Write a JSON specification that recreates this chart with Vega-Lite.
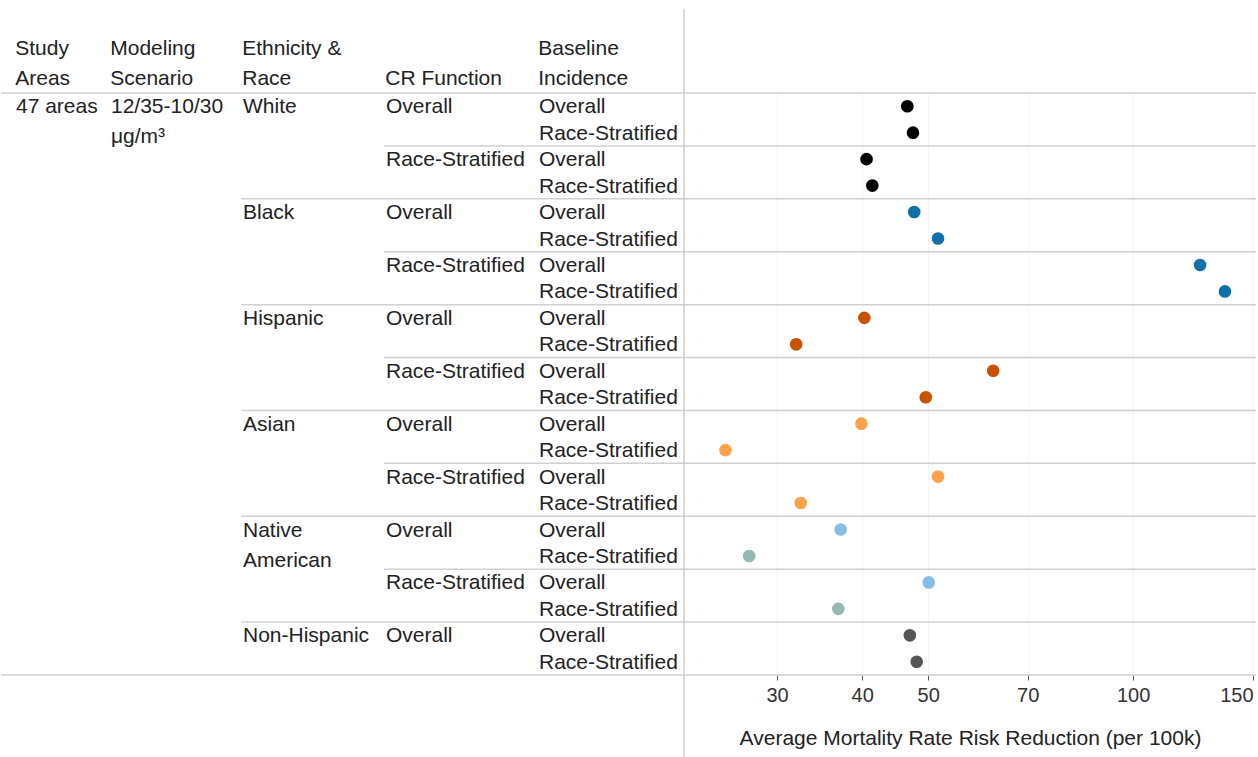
{
  "$schema": "https://vega.github.io/schema/vega-lite/v6.json",
  "padding": {"left": 0, "top": 8, "right": 0, "bottom": 0},
  "spacing": 0,
  "bounds": "flush",
  "config": {
    "view": {"stroke": null},
    "font": "Liberation Sans",
    "title": {"font": "Liberation Sans", "fontSize": 21, "fontWeight": "normal", "color": "#222222", "anchor": "start", "baseline": "bottom", "lineHeight": 30, "offset": 3},
    "text": {"font": "Liberation Sans", "fontSize": 21, "color": "#222222", "align": "left", "baseline": "alphabetic", "dy": 7, "lineHeight": 30},
    "rule": {"color": "#d0d0d0", "strokeWidth": 1.5}
  },
  "datasets": {
    "rows": [
      {"id": 1, "area": "47 areas", "scenario": "12/35-10/30 μg/m³", "eth": "White", "cr": "Overall", "base": "Overall", "value": 46.6, "cg": "White"},
      {"id": 2, "area": "47 areas", "scenario": "12/35-10/30 μg/m³", "eth": "White", "cr": "Overall", "base": "Race-Stratified", "value": 47.5, "cg": "White"},
      {"id": 3, "area": "47 areas", "scenario": "12/35-10/30 μg/m³", "eth": "White", "cr": "Race-Stratified", "base": "Overall", "value": 40.6, "cg": "White"},
      {"id": 4, "area": "47 areas", "scenario": "12/35-10/30 μg/m³", "eth": "White", "cr": "Race-Stratified", "base": "Race-Stratified", "value": 41.4, "cg": "White"},
      {"id": 5, "area": "47 areas", "scenario": "12/35-10/30 μg/m³", "eth": "Black", "cr": "Overall", "base": "Overall", "value": 47.7, "cg": "Black"},
      {"id": 6, "area": "47 areas", "scenario": "12/35-10/30 μg/m³", "eth": "Black", "cr": "Overall", "base": "Race-Stratified", "value": 51.7, "cg": "Black"},
      {"id": 7, "area": "47 areas", "scenario": "12/35-10/30 μg/m³", "eth": "Black", "cr": "Race-Stratified", "base": "Overall", "value": 125.4, "cg": "Black"},
      {"id": 8, "area": "47 areas", "scenario": "12/35-10/30 μg/m³", "eth": "Black", "cr": "Race-Stratified", "base": "Race-Stratified", "value": 136.4, "cg": "Black"},
      {"id": 9, "area": "47 areas", "scenario": "12/35-10/30 μg/m³", "eth": "Hispanic", "cr": "Overall", "base": "Overall", "value": 40.3, "cg": "Hispanic"},
      {"id": 10, "area": "47 areas", "scenario": "12/35-10/30 μg/m³", "eth": "Hispanic", "cr": "Overall", "base": "Race-Stratified", "value": 32.0, "cg": "Hispanic"},
      {"id": 11, "area": "47 areas", "scenario": "12/35-10/30 μg/m³", "eth": "Hispanic", "cr": "Race-Stratified", "base": "Overall", "value": 62.3, "cg": "Hispanic"},
      {"id": 12, "area": "47 areas", "scenario": "12/35-10/30 μg/m³", "eth": "Hispanic", "cr": "Race-Stratified", "base": "Race-Stratified", "value": 49.6, "cg": "Hispanic"},
      {"id": 13, "area": "47 areas", "scenario": "12/35-10/30 μg/m³", "eth": "Asian", "cr": "Overall", "base": "Overall", "value": 39.9, "cg": "Asian"},
      {"id": 14, "area": "47 areas", "scenario": "12/35-10/30 μg/m³", "eth": "Asian", "cr": "Overall", "base": "Race-Stratified", "value": 25.2, "cg": "Asian"},
      {"id": 15, "area": "47 areas", "scenario": "12/35-10/30 μg/m³", "eth": "Asian", "cr": "Race-Stratified", "base": "Overall", "value": 51.7, "cg": "Asian"},
      {"id": 16, "area": "47 areas", "scenario": "12/35-10/30 μg/m³", "eth": "Asian", "cr": "Race-Stratified", "base": "Race-Stratified", "value": 32.5, "cg": "Asian"},
      {"id": 17, "area": "47 areas", "scenario": "12/35-10/30 μg/m³", "eth": "Native American", "cr": "Overall", "base": "Overall", "value": 37.2, "cg": "Native American, Overall baseline"},
      {"id": 18, "area": "47 areas", "scenario": "12/35-10/30 μg/m³", "eth": "Native American", "cr": "Overall", "base": "Race-Stratified", "value": 27.3, "cg": "Native American, Race-Stratified baseline"},
      {"id": 19, "area": "47 areas", "scenario": "12/35-10/30 μg/m³", "eth": "Native American", "cr": "Race-Stratified", "base": "Overall", "value": 50.1, "cg": "Native American, Overall baseline"},
      {"id": 20, "area": "47 areas", "scenario": "12/35-10/30 μg/m³", "eth": "Native American", "cr": "Race-Stratified", "base": "Race-Stratified", "value": 36.9, "cg": "Native American, Race-Stratified baseline"},
      {"id": 21, "area": "47 areas", "scenario": "12/35-10/30 μg/m³", "eth": "Non-Hispanic", "cr": "Overall", "base": "Overall", "value": 47.0, "cg": "Non-Hispanic"},
      {"id": 22, "area": "47 areas", "scenario": "12/35-10/30 μg/m³", "eth": "Non-Hispanic", "cr": "Overall", "base": "Race-Stratified", "value": 48.1, "cg": "Non-Hispanic"}
    ]
  },
  "data": {"name": "rows"},
  "hconcat": [
    {
      "width": 108, "height": 582,
      "title": {"text": ["Study", "Areas"], "dx": 15},
      "layer": [
        {"transform": [{"filter": "datum.id == 1"}], "mark": {"type": "text", "dx": 15},
         "encoding": {"x": {"datum": 0, "type": "quantitative", "scale": {"domain": [0, 1]}, "axis": null},
                      "y": {"field": "id", "type": "ordinal", "scale": {"type": "band", "domain": [1,2,3,4,5,6,7,8,9,10,11,12,13,14,15,16,17,18,19,20,21,22], "paddingInner": 0, "paddingOuter": 0}, "axis": null},
                      "text": {"field": "area"}}},
        {"transform": [{"filter": "datum.id == 1"}], "mark": "rule",
         "encoding": {"y": {"field": "id", "type": "ordinal", "bandPosition": 0, "axis": null}}},
        {"transform": [{"filter": "datum.id == 22"}], "mark": "rule",
         "encoding": {"y": {"field": "id", "type": "ordinal", "bandPosition": 1, "axis": null}}}
      ]
    },
    {
      "width": 132, "height": 582,
      "title": {"text": ["Modeling", "Scenario"], "dx": 2},
      "layer": [
        {"transform": [{"filter": "datum.id == 1"}], "mark": {"type": "text", "dx": 2, "lineBreak": " "},
         "encoding": {"x": {"datum": 0, "type": "quantitative", "scale": {"domain": [0, 1]}, "axis": null},
                      "y": {"field": "id", "type": "ordinal", "scale": {"type": "band", "domain": [1,2,3,4,5,6,7,8,9,10,11,12,13,14,15,16,17,18,19,20,21,22], "paddingInner": 0, "paddingOuter": 0}, "axis": null},
                      "text": {"field": "scenario"}}},
        {"transform": [{"filter": "datum.id == 1"}], "mark": "rule",
         "encoding": {"y": {"field": "id", "type": "ordinal", "bandPosition": 0, "axis": null}}},
        {"transform": [{"filter": "datum.id == 22"}], "mark": "rule",
         "encoding": {"y": {"field": "id", "type": "ordinal", "bandPosition": 1, "axis": null}}}
      ]
    },
    {
      "width": 143, "height": 582,
      "title": {"text": ["Ethnicity &", "Race"], "dx": 2},
      "layer": [
        {"transform": [{"filter": "datum.cr == 'Overall' && datum.base == 'Overall'"}], "mark": {"type": "text", "dx": 2, "lineBreak": " "},
         "encoding": {"x": {"datum": 0, "type": "quantitative", "scale": {"domain": [0, 1]}, "axis": null},
                      "y": {"field": "id", "type": "ordinal", "scale": {"type": "band", "domain": [1,2,3,4,5,6,7,8,9,10,11,12,13,14,15,16,17,18,19,20,21,22], "paddingInner": 0, "paddingOuter": 0}, "axis": null},
                      "text": {"field": "eth"}}},
        {"transform": [{"filter": "datum.cr == 'Overall' && datum.base == 'Overall'"}], "mark": "rule",
         "encoding": {"y": {"field": "id", "type": "ordinal", "bandPosition": 0, "axis": null}}},
        {"transform": [{"filter": "datum.id == 22"}], "mark": "rule",
         "encoding": {"y": {"field": "id", "type": "ordinal", "bandPosition": 1, "axis": null}}}
      ]
    },
    {
      "width": 153, "height": 582,
      "title": {"text": "CR Function", "dx": 2},
      "layer": [
        {"transform": [{"filter": "datum.base == 'Overall'"}], "mark": {"type": "text", "dx": 2},
         "encoding": {"x": {"datum": 0, "type": "quantitative", "scale": {"domain": [0, 1]}, "axis": null},
                      "y": {"field": "id", "type": "ordinal", "scale": {"type": "band", "domain": [1,2,3,4,5,6,7,8,9,10,11,12,13,14,15,16,17,18,19,20,21,22], "paddingInner": 0, "paddingOuter": 0}, "axis": null},
                      "text": {"field": "cr"}}},
        {"transform": [{"filter": "datum.base == 'Overall'"}], "mark": "rule",
         "encoding": {"y": {"field": "id", "type": "ordinal", "bandPosition": 0, "axis": null}}},
        {"transform": [{"filter": "datum.id == 22"}], "mark": "rule",
         "encoding": {"y": {"field": "id", "type": "ordinal", "bandPosition": 1, "axis": null}}}
      ]
    },
    {
      "width": 147, "height": 582,
      "title": {"text": ["Baseline", "Incidence"], "dx": 2},
      "layer": [
        {"mark": {"type": "text", "dx": 2},
         "encoding": {"x": {"datum": 0, "type": "quantitative", "scale": {"domain": [0, 1]}, "axis": null},
                      "y": {"field": "id", "type": "ordinal", "scale": {"type": "band", "domain": [1,2,3,4,5,6,7,8,9,10,11,12,13,14,15,16,17,18,19,20,21,22], "paddingInner": 0, "paddingOuter": 0}, "axis": null},
                      "text": {"field": "base"}}},
        {"transform": [{"filter": "datum.base == 'Overall'"}], "mark": "rule",
         "encoding": {"y": {"field": "id", "type": "ordinal", "bandPosition": 0, "axis": null}}},
        {"transform": [{"filter": "datum.id == 22"}], "mark": "rule",
         "encoding": {"y": {"field": "id", "type": "ordinal", "bandPosition": 1, "axis": null}}}
      ]
    },
    {
      "width": 572, "height": 582,
      "layer": [
        {"transform": [{"filter": "datum.base == 'Overall'"}], "mark": "rule",
         "encoding": {"y": {"field": "id", "type": "ordinal", "scale": {"type": "band", "domain": [1,2,3,4,5,6,7,8,9,10,11,12,13,14,15,16,17,18,19,20,21,22], "paddingInner": 0, "paddingOuter": 0}, "bandPosition": 0, "axis": null}}},
        {"transform": [{"filter": "datum.id == 22"}], "mark": "rule",
         "encoding": {"y": {"field": "id", "type": "ordinal", "scale": {"type": "band", "domain": [1,2,3,4,5,6,7,8,9,10,11,12,13,14,15,16,17,18,19,20,21,22], "paddingInner": 0, "paddingOuter": 0}, "bandPosition": 1, "axis": null}}},
        {"transform": [{"filter": "datum.id == 1"}], "mark": {"type": "rule", "color": "#cfcfcf"},
         "encoding": {"x": {"datum": 21.9, "type": "quantitative"},
                      "y": {"datum": 1.1443, "type": "quantitative", "scale": {"domain": [0, 1], "nice": false, "zero": false}, "axis": null},
                      "y2": {"datum": -0.1426}}},
        {"mark": {"type": "circle", "size": 160, "opacity": 1},
         "encoding": {
           "x": {"field": "value", "type": "quantitative",
                 "scale": {"type": "log", "domain": [21.9, 151.5], "nice": false},
                 "axis": {"values": [30, 40, 50, 70, 100, 150], "format": "d", "title": "Average Mortality Rate Risk Reduction (per 100k)",
                          "labelFont": "Liberation Sans", "labelFontSize": 20, "labelColor": "#333333", "labelPadding": 5, "labelFlush": 5,
                          "titleFont": "Liberation Sans", "titleFontSize": 21, "titleFontWeight": "normal", "titleColor": "#222222", "titlePadding": 22,
                          "domain": false, "tickColor": "#555555", "tickSize": 5,
                          "grid": true, "gridColor": "#f4f4f4"}},
           "y": {"field": "id", "type": "ordinal", "scale": {"type": "band", "domain": [1,2,3,4,5,6,7,8,9,10,11,12,13,14,15,16,17,18,19,20,21,22], "paddingInner": 0, "paddingOuter": 0}, "axis": null},
           "color": {"field": "cg", "type": "nominal", "legend": null,
                     "scale": {"domain": ["White", "Black", "Hispanic", "Asian", "Native American, Overall baseline", "Native American, Race-Stratified baseline", "Non-Hispanic"],
                               "range": ["#000000", "#1170aa", "#c85200", "#fca24b", "#84bde6", "#95b8b3", "#555555"]}}
         }}
      ],
      "resolve": {"scale": {"y": "independent"}}
    }
  ]
}
